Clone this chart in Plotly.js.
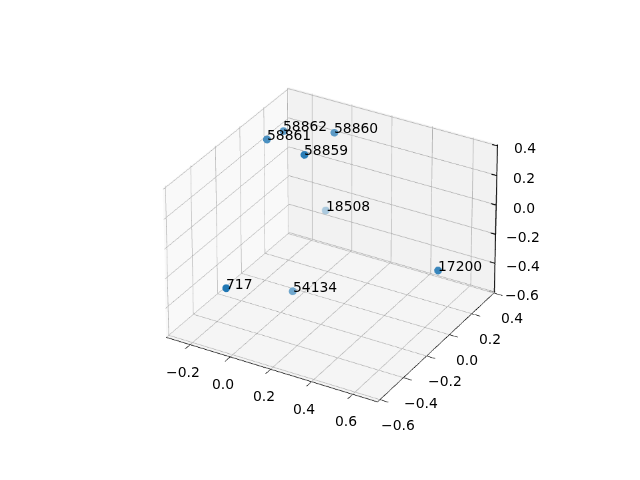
<!DOCTYPE html>
<html>
<head>
<meta charset="utf-8">
<script src="https://cdn.plot.ly/plotly-3.0.1.min.js"></script>
<style>
html,body{margin:0;padding:0;width:640px;height:480px;overflow:hidden;background:#fff}
#chart{position:absolute;left:-1668px;top:-1594px;width:4000px;height:3670px}
</style>
</head>
<body>
<div id="chart"></div>
<script>
const labels = ["717","54134","18508","17200","58859","58860","58861","58862"];
const xs = [-0.034,0.0255,-0.104,0.665,0.042,0.054,-0.182,-0.147];
const ys = [-0.59,-0.143,0.361,-0.009,-0.067,0.165,-0.004,0.076];
const zs = [-0.167,-0.482,-0.325,-0.176,0.40,0.40,0.377,0.394];
const alphas = [1.0,0.62,0.35,0.88,0.95,0.72,0.8,0.72];
const xTicks = [-0.2,0,0.2,0.4,0.6];
const yTicks = [-0.6,-0.4,-0.2,0,0.2,0.4];
const zTicks = [-0.6,-0.4,-0.2,0,0.2,0.4];
const xRange = [-0.32,0.72], yRange = [-0.62,0.41], zRange = [-0.60,0.41];
const tickText = v => v===0?"0.0":(v<0?"\u2212":"")+Math.abs(v).toFixed(1);
const fnt = {family:"DejaVu Sans",size:13.9,color:"#000"};
function ax(range,ticks,bg,vis){
  return {range:range,tickmode:"array",tickvals:ticks,showticklabels:false,
    title:{text:""},showgrid:true,gridcolor:"#b0b0b0",gridwidth:1,zeroline:false,
    showline:vis,linecolor:"#000",linewidth:1,ticks:vis?"outside":"",ticklen:6,tickwidth:1,tickcolor:"#000",
    showbackground:true,backgroundcolor:bg,showspikes:false,autorange:false};
}
const blend = a => {const c=[31,119,180],b=[245,245,245];return 'rgb('+c.map((v,i)=>Math.round(a*v+(1-a)*b[i])).join(',')+')';};
function note(x,y,z,text,xanchor,yanchor,xshift,yshift){
  return {x,y,z,text,showarrow:false,xanchor,yanchor,xshift,yshift,font:fnt,borderpad:0,borderwidth:0};
}
const annotations = [
  ...labels.map((t,i)=>note(xs[i],ys[i],zs[i],t,"left","bottom",0,-3.5)),
  ...xTicks.map(v=>note(v,yRange[0],zRange[0],tickText(v),"center","middle",-7,-27)),
  ...yTicks.map(v=>note(xRange[1],v,zRange[0],tickText(v),"center","middle",18,-25)),
  ...zTicks.map(v=>note(xRange[1],yRange[1],v,tickText(v),"center","middle",27,-2.5))
];
// z axis on the back-right edge, inset a hair so it sits in front of the wall
const inset = 0.002;
const edgeX = xRange[1]-inset, edgeY = yRange[1]-inset;
const zlx=[edgeX,edgeX], zly=[edgeY,edgeY], zlz=[zRange[0],zRange[1]];
const tx=[],ty=[],tz=[];
zTicks.forEach(v=>{tx.push(edgeX-0.025,edgeX,null);ty.push(edgeY,edgeY,null);tz.push(v,v,null);});
Plotly.newPlot("chart",[{
  type:"scatter3d",mode:"lines",x:zlx,y:zly,z:zlz,line:{color:"#000",width:1.5},hoverinfo:"skip"
},{
  type:"scatter3d",mode:"lines",x:tx,y:ty,z:tz,line:{color:"#000",width:1.5},hoverinfo:"skip",connectgaps:false
},{
  type:"scatter3d",mode:"markers",x:xs,y:ys,z:zs,
  marker:{size:3.4,color:alphas.map(blend),line:{width:0}},
  hoverinfo:"skip"
}],{
  width:4000,height:3670,margin:{l:0,r:0,t:0,b:0},showlegend:false,
  paper_bgcolor:"#fff",
  scene:{
    domain:{x:[0,1],y:[0,1]},
    aspectmode:"manual",aspectratio:{x:1.02,y:1.02,z:0.72},
    camera:{eye:{x:8.05,y:-13.95,z:9.3},center:{x:0,y:0,z:0},up:{x:0,y:0,z:1}},
    annotations:annotations,
    xaxis:ax(xRange,xTicks,"#f9f9f9",true),
    yaxis:ax(yRange,yTicks,"#f2f2f2",true),
    zaxis:ax(zRange,zTicks,"#f5f5f5",false)
  }
},{displayModeBar:false});
</script>
</body>
</html>
